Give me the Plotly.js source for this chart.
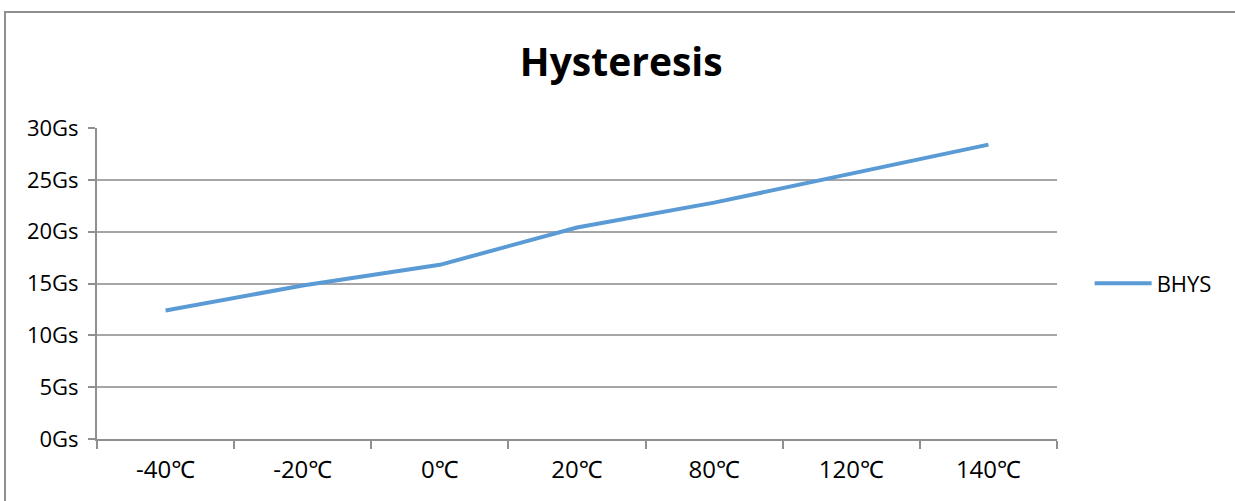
<!DOCTYPE html>
<html>
<head>
<meta charset="utf-8">
<script src="https://cdn.plot.ly/plotly-3.0.1.min.js"></script>
<style>
  html, body { margin: 0; padding: 0; background: #fff; }
  #wrap { position: relative; width: 1235px; height: 501px; overflow: hidden; }
  #chart { position: absolute; left: 0; top: 0; width: 1235px; height: 501px; }
  #frameTop { position: absolute; left: 4px; top: 11px; width: 1231px; height: 0; border-top: 2px solid #8f8f8f; pointer-events: none; }
  #frameLeft { position: absolute; left: 4px; top: 11px; width: 0; height: 490px; border-left: 2px solid #8f8f8f; pointer-events: none; }
</style>
</head>
<body>
<div id="wrap">
  <div id="chart"></div>
  <div id="frameTop"></div>
  <div id="frameLeft"></div>
</div>
<script>
const categories = ["-40\u2103", "-20\u2103", "0\u2103", "20\u2103", "80\u2103", "120\u2103", "140\u2103"];
const bhys = [12.4, 14.8, 16.8, 20.4, 22.8, 25.6, 28.4];
const yTickValues = [0, 5, 10, 15, 20, 25, 30];
const yTickLabels = ["0Gs", "5Gs", "10Gs", "15Gs", "20Gs", "25Gs", "30Gs"];
const seriesName = "BHYS";
const chartTitle = "Hysteresis";

const font = "'Open Sans', 'Noto Sans', sans-serif";

const trace = {
  x: categories,
  y: bhys,
  type: "scatter",
  mode: "lines",
  name: seriesName,
  line: { color: "#5b9bd5", width: 4 },
  showlegend: true
};

const layout = {
  width: 1235,
  height: 501,
  paper_bgcolor: "#ffffff",
  plot_bgcolor: "#ffffff",
  margin: { l: 97, r: 178, t: 128, b: 62, pad: 0 },
  title: {
    text: "<b>" + chartTitle + "</b>",
    font: { family: font, size: 39, color: "#000000" },
    x: 0.503, xref: "container", xanchor: "center",
    y: 0.876, yref: "container", yanchor: "middle"
  },
  xaxis: {
    type: "category",
    tickson: "boundaries",
    ticks: "outside",
    ticklen: 8,
    tickwidth: 2,
    tickcolor: "#8f8f8f",
    showline: true,
    linecolor: "#8f8f8f",
    linewidth: 2,
    showgrid: false,
    zeroline: false,
    range: [-0.5, 6.5],
    ticklabelstandoff: 8,
    tickfont: { family: font, size: 24, color: "#000000" },
    fixedrange: true
  },
  yaxis: {
    range: [0, 30],
    tickvals: yTickValues,
    ticktext: yTickLabels,
    ticks: "outside",
    ticklen: 7,
    tickwidth: 2,
    tickcolor: "#8f8f8f",
    showline: true,
    linecolor: "#8f8f8f",
    linewidth: 2,
    showgrid: true,
    gridcolor: "#a6a6a6",
    gridwidth: 2,
    zeroline: false,
    ticklabelstandoff: 5,
    tickfont: { family: font, size: 22, color: "#000000" },
    fixedrange: true
  },
  showlegend: true,
  legend: {
    x: 1.034, xanchor: "left",
    y: 0.5, yanchor: "middle",
    itemwidth: 57,
    font: { family: font, size: 22, color: "#000000" },
    bgcolor: "rgba(0,0,0,0)"
  }
};

Plotly.newPlot("chart", [trace], layout, { staticPlot: true, displayModeBar: false });
</script>
</body>
</html>
